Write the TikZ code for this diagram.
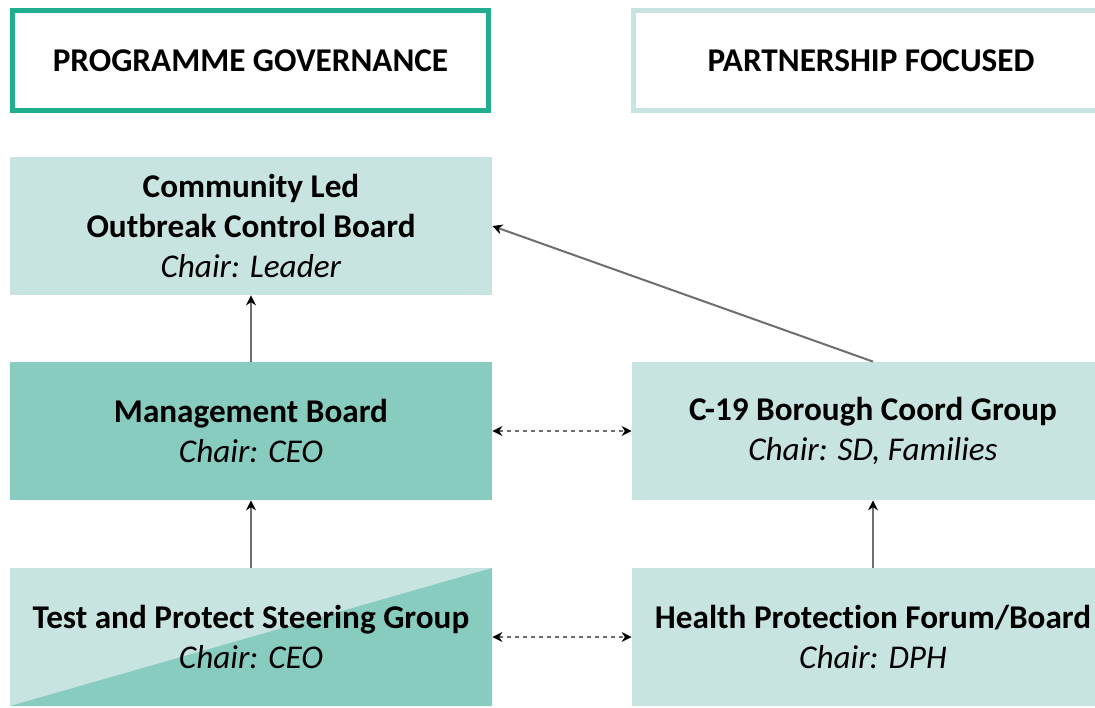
\documentclass[tikz,border=0pt]{standalone}
\usepackage{fontspec}
\setmainfont{Carlito}[Ligatures=NoCommon]
\usetikzlibrary{arrows.meta}

\definecolor{paletile}{HTML}{C8E4E0}
\definecolor{deeptile}{HTML}{88CCC0}
\definecolor{govgreen}{HTML}{20AE8E}
\definecolor{linkgrey}{HTML}{6E6E6E}

\begin{document}
\begin{tikzpicture}[x=0.5pt, y=-0.5pt, font=\fontsize{16.6}{20}\selectfont,
    >={Stealth[length=5pt, width=5pt, color=black]},
    heading/.style={rectangle, draw, line width=2.5pt, fill=white,
      minimum width=238pt, minimum height=50pt, inner sep=0pt,
      font=\fontsize{16.6}{18}\selectfont\bfseries},
    board/.style={rectangle, fill=paletile, minimum width=241pt,
      minimum height=69pt, align=center, inner sep=0pt},
    split/.style={board, path picture={
      \fill[deeptile] (path picture bounding box.south west)
        -- (path picture bounding box.north east)
        -- (path picture bounding box.south east) -- cycle;}},
    link/.style={draw=linkgrey, line width=1pt, ->},
    peer/.style={link, <->, dash pattern=on 2pt off 2pt}]
  % frame of the page
  \useasboundingbox (0,0) rectangle (1095,707);
  \clip (0,0) rectangle (1095,707);

  % column headings
  \node[heading, draw=govgreen] (govhead) at (250.5,60.5) {PROGRAMME GOVERNANCE};
  \node[heading, draw=paletile] (parthead) at (871,60.5) {PARTNERSHIP FOCUSED};

  % boards
  \node[board] (outbreak) at (251,226) {\textbf{Community Led}\\
    \textbf{Outbreak Control Board}\\ \textit{Chair: Leader}};
  \node[board, fill=deeptile] (mgmt) at (251,431) {\textbf{Management Board}\\
    \textit{Chair: CEO}};
  \node[split] (steering) at (251,637) {\textbf{Test and Protect Steering Group}\\
    \textit{Chair: CEO}};
  \node[board] (borough) at (873,431) {\textbf{C-19 Borough Coord Group}\\
    \textit{Chair: SD, Families}};
  \node[board] (healthforum) at (873,637) {\textbf{Health Protection Forum/Board}\\
    \textit{Chair: DPH}};

  % reporting lines
  \draw[link] (mgmt) -- (outbreak);
  \draw[link] (steering) -- (mgmt);
  \draw[link] (healthforum) -- (borough);
  \draw[link] (borough.north) -- (outbreak.east);

  % working links
  \draw[peer] (mgmt) -- (borough);
  \draw[peer] (steering) -- (healthforum);
\end{tikzpicture}
\end{document}
